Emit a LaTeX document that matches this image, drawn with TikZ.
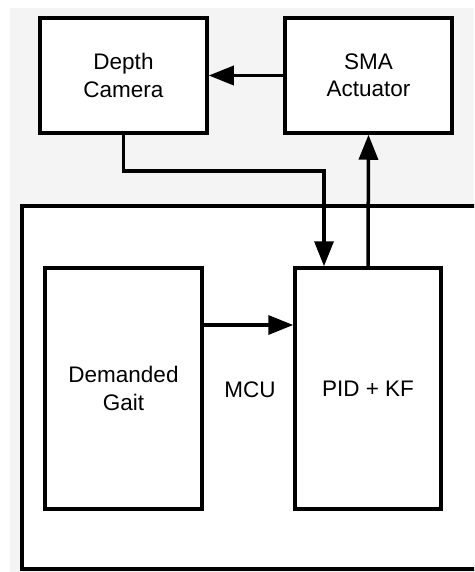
\documentclass[tikz,border=0pt]{standalone}
\usepackage{fontspec}
\setmainfont{Liberation Sans}
\usetikzlibrary{arrows.meta}
\definecolor{bggray}{HTML}{F4F4F4}
\begin{document}
\begin{tikzpicture}[x=1pt,y=-1pt,
  blk/.style={draw=black, fill=white, line width=3.5pt, align=center, inner sep=0pt,
    font=\fontsize{22.5}{27.5}\selectfont},
  lbl/.style={font=\fontsize{22.5}{27.5}\selectfont, inner sep=0pt},
  arr/.style={line width=3.5pt, -{Triangle[length=25pt,width=19pt]}},
  conn/.style={line width=3.5pt}]
\useasboundingbox (0,0) rectangle (474,572);
\clip (0,0) rectangle (474,572);
\fill[bggray] (10,8) rectangle (480,580);
% MCU enclosure
\draw[conn, fill=white] (22,569) -- (22,206) -- (500,206) -- (500,569) -- cycle;
\node[blk, minimum width=167pt, minimum height=115pt] (dc) at (123.5,75.5) {Depth\\Camera};
\node[blk, minimum width=167pt, minimum height=115pt] (sma) at (368.5,75.5) {SMA\\Actuator};
\node[blk, minimum width=157pt, minimum height=241pt] (dg) at (123.5,388.5) {Demanded\\Gait};
\node[blk, minimum width=146pt, minimum height=241pt] (pid) at (368,388.5) {PID + KF};
\node[lbl] (mcu) at (250,390) {MCU};
\coordinate (bend) at (123.5,171);
\draw[arr] (sma.west) -- (dc.east);
\draw[arr] (dc.south) -- (bend) -| ([xshift=-44pt]pid.north);
\draw[arr] (pid.north) -- (sma.south);
\draw[arr] ([yshift=63.5pt]dg.east) -- ([yshift=63.5pt]pid.west);
\end{tikzpicture}
\end{document}
